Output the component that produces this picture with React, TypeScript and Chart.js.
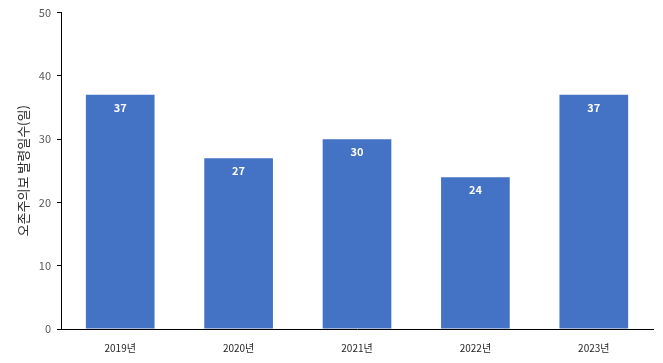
import React, { useEffect, useRef } from "react";
import { Chart, registerables } from "chart.js";

Chart.register(...registerables);

const categories = ["2019년", "2020년", "2021년", "2022년", "2023년"];
const values = [37, 27, 30, 24, 37];
const yTitle = "오존주의보 발령일수(일)";
const yMin = 0;
const yMax = 50;
const yStep = 10;

const FONT = '"Noto Sans CJK KR", "Noto Sans", sans-serif';

const valueLabels = {
  id: "valueLabels",
  afterDatasetsDraw(chart: any) {
    const ctx = chart.ctx;
    const meta = chart.getDatasetMeta(0);
    ctx.save();
    ctx.fillStyle = "#ffffff";
    ctx.font = `bold 11px ${FONT}`;
    ctx.textAlign = "center";
    ctx.textBaseline = "middle";
    meta.data.forEach((bar: any, i: number) => {
      ctx.fillText(String(values[i]), bar.x, bar.y + 13);
    });
    ctx.restore();
  },
};

export default function App() {
  const ref = useRef<HTMLCanvasElement>(null);
  useEffect(() => {
    const chart = new Chart(ref.current!, {
      type: "bar",
      data: {
        labels: categories,
        datasets: [
          {
            data: values,
            backgroundColor: "#4472C4",
            borderWidth: 0,
            categoryPercentage: 0.58,
            barPercentage: 1,
          },
        ],
      },
      options: {
        animation: false,
        responsive: false,
        maintainAspectRatio: false,
        layout: { padding: { top: 12, right: 10, left: 15, bottom: 0 } },
        plugins: { legend: { display: false }, tooltip: { enabled: false } },
        scales: {
          x: {
            grid: { display: false },
            border: { display: true, color: "#000000", width: 1 },
            ticks: { color: "#262626", font: { family: FONT, size: 10 }, padding: 5 },
            afterFit: (s: any) => {
              s.height = 34;
            },
          },
          y: {
            min: yMin,
            max: yMax,
            grid: { drawOnChartArea: false, drawTicks: true, tickLength: 4, color: "#000000" },
            border: { display: true, color: "#000000", width: 1 },
            ticks: { stepSize: yStep, color: "#595959", font: { family: FONT, size: 11 }, padding: 6 },
            title: {
              display: true,
              text: yTitle,
              color: "#262626",
              font: { family: FONT, size: 13 },
              padding: { top: 0, bottom: 4 },
            },
            afterFit: (s: any) => {
              s.width = 46;
            },
          },
        },
      },
      plugins: [valueLabels],
    });
    return () => chart.destroy();
  }, []);
  return (
    <div style={{ position: "absolute", left: 0, top: 0, width: 663, height: 363, background: "#fff" }}>
      <canvas ref={ref} width={663} height={363} style={{ width: 663, height: 363 }} />
    </div>
  );
}
